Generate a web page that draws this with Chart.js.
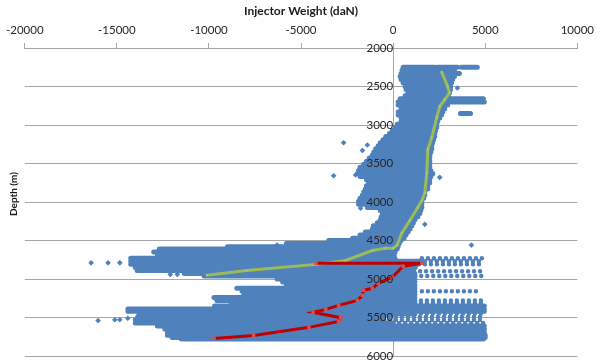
<!DOCTYPE html>
<html>
<head>
<meta charset="utf-8">
<script src="https://cdn.jsdelivr.net/npm/chart.js@4/dist/chart.umd.min.js"></script>
<style>
  html, body { margin: 0; padding: 0; background: #fff; }
  #wrap { width: 600px; height: 364px; }
</style>
</head>
<body>
<div id="wrap"><canvas id="c" width="600" height="364"></canvas></div>
<script>
// Axis ticks
const weightTicks = [-20000, -15000, -10000, -5000, 0, 5000, 10000];
const depthTicks = [2000, 2500, 3000, 3500, 4000, 4500, 5000, 5500, 6000];

// Dense rows of logged readings: depth (m) with the weight span (daN) they cover
const bandDepth = [2250, 2250, 2250, 2290, 2330, 2370, 2410, 2450, 2500, 2540, 2580, 2620, 2660, 2700, 2740, 2790, 2830, 2850, 2870, 2910,
  2950, 2990, 3030, 3070, 3110, 3150, 3190, 3230, 3270, 3310, 3350, 3390, 3430, 3470, 3510, 3550, 3590, 3630, 3670, 3710,
  3750, 3790, 3830, 3870, 3910, 3950, 3990, 4030, 4070, 4110, 4150, 4190, 4230, 4270, 4310, 4350, 4390, 4430, 4470, 4500,
  4540, 4580, 4610, 4650, 4690, 4730, 4770, 4810, 4850, 4890, 4930, 4960, 5000, 5040, 5080, 5120, 5160, 5200, 5240, 5280,
  5310, 5350, 5390, 5420, 5450, 5490, 5530, 5570, 5610, 5650, 5690, 5730, 5760, 5780];
const bandLeft = [540, 2420, 3710, 480, 430, 380, 430, 540, 650, 700, 800, 650, 380, 270, 270, 430, 270, 3650, 270, 430,
  430, 220, 110, -50, -200, -400, -550, -700, -810, -950, -1050, -1130, -1300, -1450, -1600, -1800, -1880, -1940, -1800, -1450,
  -1340, -1450, -1510, -1600, -1670, -1800, -1880, -1880, -1400, -700, -590, -650, -700, -860, -1080, -1130, -1510, -1800, -2200, -3500,
  -5800, -9000, -12700, -13000, -12800, -14250, -14250, -14250, -14000, -13900, -11340, -10270, -6300, -6000, -5800, -8490, -8200, -8120, -9730, -9570,
  -8800, -9700, -14400, -14400, -13800, -13870, -14000, -14000, -12800, -12400, -12260, -12260, -12000, -11500];
const bandRight = [2260, 3490, 4570, 3330, 3600, 3330, 3230, 3170, 3120, 3120, 3060, 3000, 4900, 4950, 2960, 2800, 2700, 4200, 2630, 2530,
  2420, 2370, 2370, 2310, 2260, 2260, 2200, 2150, 2100, 2100, 2050, 2000, 1990, 1990, 1990, 1990, 2050, 2150, 2050, 1990,
  1990, 1880, 1880, 1720, 1720, 1660, 1560, 1560, 1560, 1500, 1450, 1340, 1180, 1100, 1020, 920, 810, 700, 600, 430,
  330, 270, 220, 110, 60, 100, 1500, 1300, 1200, 900, 1180, 1180, 1180, 1180, 1180, 1180, 1180, 1180, 1180, 1180,
  1180, 4950, 4950, 4950, 1180, -500, -500, 0, 4950, 4950, 4950, 5000, 5000, 4900];

// Sparse rows of readings (scattered along the span)
const sparseDepth = [4730, 4770, 4810, 4900, 4960, 5160, 5280, 5310, 5450, 5490, 5530, 5570];
const sparseLeft = [1560, 1720, 1400, 810, 1200, 1560, 1180, 1180, 1180, -500, -500, 0];
const sparseRight = [4950, 4950, 4900, 4950, 4950, 4520, 4950, 4950, 4950, 4950, 4950, 4950];

// Isolated readings
const strayWeight = [-2690, -3230, -2040, 2530, 2100, -1670, -1400, 3490, 1720, -1770, 4250, -6300,
  -16400, -15480, -14840, -12100, -11720, -16020, -15110, -14840, -14410];
const strayDepth = [3230, 3660, 3650, 3680, 3650, 3330, 3260, 2520, 4290, 4080, 4560, 4560,
  4790, 4790, 4790, 4940, 4940, 5540, 5530, 5530, 5510];

// Running-in weight profile
const rihDepth = [2310, 2500, 2580, 2670, 2760, 2900, 3160, 3320, 3620, 3880, 3980, 4070, 4240, 4400, 4560, 4600, 4600, 4630, 4760, 4810, 4890, 4950];
const rihWeight = [2630, 2960, 3060, 2800, 2530, 2370, 2100, 1880, 1830, 1720, 1560, 1340, 910, 480, 215, 0, -430, -1130, -2580, -4190, -7960, -10110];

// Pulling-out weight profile
const poohDepth = [4795, 4795, 4834, 4977, 5056, 5121, 5147, 5212, 5277, 5342, 5394, 5433, 5502, 5550, 5628, 5733, 5772];
const poohWeight = [-4190, 1560, 540, -50, -810, -1130, -1610, -1670, -1940, -2960, -3660, -4350, -2850, -2960, -4570, -7580, -9730];

const BLUE = '#4f81bd';
const FONT = 'Lato, "Liberation Sans", sans-serif';

// Turn parallel span arrays into broken line data: one stroke per row
function spans(depths, lefts, rights) {
  const pts = [];
  depths.forEach((d, i) => {
    pts.push({ x: lefts[i], y: d }, { x: rights[i], y: d }, { x: null, y: null });
  });
  return pts;
}
const pairs = (xs, ys) => xs.map((x, i) => ({ x: x, y: ys[i] }));
const fixedTicks = list => scale => { scale.ticks = list.map(v => ({ value: v })); };
const plain = v => String(v);

// Rotated title for the depth axis, placed at the far left of the canvas
const depthTitle = {
  id: 'depthTitle',
  afterDraw(chart) {
    const ctx = chart.ctx;
    ctx.save();
    ctx.translate(14, 194);
    ctx.rotate(-Math.PI / 2);
    ctx.font = 'bold 10px ' + FONT;
    ctx.fillStyle = '#1a1a1a';
    ctx.textAlign = 'center';
    ctx.textBaseline = 'middle';
    ctx.fillText('Depth (m)', 0, 0);
    ctx.restore();
  }
};

new Chart(document.getElementById('c'), {
  type: 'scatter',
  data: {
    datasets: [
      {
        data: pairs(poohWeight, poohDepth), showLine: true, order: 0,
        borderColor: '#c00000', borderWidth: 3, tension: 0,
        pointStyle: 'rect', pointRadius: 2.5, pointBackgroundColor: '#d9504d', pointBorderWidth: 0
      },
      {
        data: pairs(rihWeight, rihDepth), showLine: true, order: 1,
        borderColor: '#9bbb59', borderWidth: 3, tension: 0,
        pointStyle: 'rect', pointRadius: 1.5, pointBackgroundColor: '#a9c86b', pointBorderWidth: 0
      },
      {
        data: pairs(strayWeight, strayDepth), order: 2,
        pointStyle: 'rectRot', pointRadius: 2.8, backgroundColor: BLUE, borderWidth: 0
      },
      {
        data: spans(sparseDepth, sparseLeft, sparseRight), showLine: true, order: 3, spanGaps: false,
        borderColor: BLUE, borderWidth: 4.5, borderCapStyle: 'round', borderDash: [0, 6], pointRadius: 0
      },
      {
        data: spans(bandDepth, bandLeft, bandRight), showLine: true, order: 4, spanGaps: false,
        borderColor: BLUE, borderWidth: 5, borderCapStyle: 'round', borderJoinStyle: 'round', pointRadius: 0
      }
    ]
  },
  options: {
    responsive: false,
    animation: false,
    devicePixelRatio: 1,
    events: [],
    layout: { padding: { left: 24, right: 15, top: 0, bottom: 8 } },
    plugins: { legend: { display: false }, tooltip: { enabled: false } },
    scales: {
      x: {
        type: 'linear', position: 'top', min: -20000, max: 10000,
        afterBuildTicks: fixedTicks(weightTicks),
        afterFit: s => { s.height = 48; },
        ticks: { font: { family: FONT, size: 11.5 }, color: '#262626', padding: 6, maxRotation: 0, autoSkip: false, callback: plain },
        grid: { drawOnChartArea: false, drawTicks: true, tickLength: 5, color: '#a6a6a6' },
        border: { display: true, color: '#a6a6a6' },
        title: { display: true, text: 'Injector Weight (daN)', color: '#1a1a1a',
          font: { family: FONT, size: 12, weight: 'bold' }, padding: { top: 4, bottom: 0 } }
      },
      y: {
        type: 'linear', reverse: true, min: 2000, max: 6000, position: { x: 0 },
        afterBuildTicks: fixedTicks(depthTicks),
        afterFit: s => { s.paddingTop = 0; s.paddingBottom = 0; },
        ticks: { font: { family: FONT, size: 11.5 }, color: '#262626', padding: 7, z: 1, callback: plain },
        grid: { color: '#a6a6a6', drawTicks: true, tickLength: 4 },
        border: { display: true, color: '#a6a6a6' }
      }
    }
  },
  plugins: [depthTitle]
});
</script>
</body>
</html>
